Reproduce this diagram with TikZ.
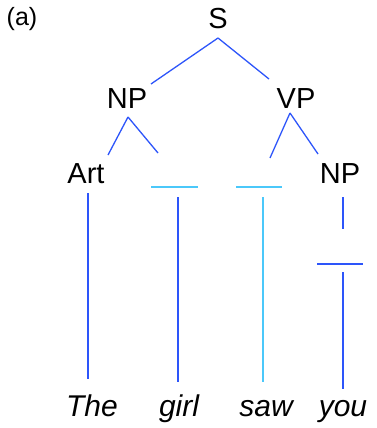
\documentclass[tikz,border=0pt]{standalone}
\usepackage{fontspec}
\setmainfont{Liberation Sans}
\definecolor{treeblue}{RGB}{45,85,250}
\definecolor{treecyan}{RGB}{75,200,250}
\tikzstyle{label}=[font=\fontsize{29}{32}\selectfont,inner sep=0pt,anchor=base]
\tikzstyle{word}=[font=\fontsize{30}{33}\selectfont\itshape,inner sep=0pt,anchor=base]
\tikzstyle{branch} = [draw,treeblue,line width=1.3pt]
\tikzstyle{gapbar} = [draw,treecyan,line width=2.2pt]
\begin{document}
\begin{tikzpicture}[x=1pt, y=-1pt]
			\useasboundingbox (0,0) rectangle (376,428);
			\node [font=\fontsize{25}{28}\selectfont,inner sep=0pt,anchor=base] (tag) at (22,26) {(a)};
			\node [label] (s)    at (218,29) {S};
			\node [label] (np1)  at (127,108) {NP};
			\node [label] (vp)   at (296,108) {VP};
			\node [label] (art)  at (86,183) {Art};
			\node [label] (np2)  at (340,183) {NP};
			\node [word]  (the)  at (92,416) {The};
			\node [word]  (girl) at (179,416) {girl};
			\node [word]  (saw)  at (266,416) {saw};
			\node [word]  (you)  at (343,416) {you};

			\coordinate (s-b)   at (218,38);
			\coordinate (np1-t) at (151,84);
			\coordinate (vp-t)  at (269,79);
			\coordinate (np1-b) at (128,117);
			\coordinate (art-t) at (108,155);
			\coordinate (gap1)  at (158,153);
			\coordinate (vp-b)  at (290,113);
			\coordinate (gap2)  at (270,158);
			\coordinate (np2-t) at (318,154);
			\coordinate (bar1l) at (151,187);
			\coordinate (bar1r) at (198,187);
			\coordinate (bar2l) at (236,187);
			\coordinate (bar2r) at (282,187);
			\coordinate (bar3l) at (317,264);
			\coordinate (bar3r) at (363,264);
			% vertical stems
			\coordinate (art-s)  at (88,193);
			\coordinate (the-n)  at (88,379);
			\coordinate (girl-s) at (178,197);
			\coordinate (girl-n) at (178,382);
			\coordinate (saw-s)  at (263,197);
			\coordinate (saw-n)  at (263,382);
			\coordinate (np2-s)  at (343,197);
			\coordinate (np2-g)  at (343,229);
			\coordinate (you-g)  at (343,272);
			\coordinate (you-n)  at (343,389);

			\draw [branch] (s-b) -- (np1-t);
			\draw [branch] (s-b) -- (vp-t);
			\draw [branch] (np1-b) -- (art-t);
			\draw [branch] (np1-b) -- (gap1);
			\draw [branch] (vp-b) -- (gap2);
			\draw [branch] (vp-b) -- (np2-t);
			\draw [gapbar] (bar1l) -- (bar1r);
			\draw [gapbar] (bar2l) -- (bar2r);
			\draw [branch] (bar3l) -- (bar3r);

			\draw [branch] (art-s) -- (the-n);
			\draw [branch] (girl-s) -- (girl-n);
			\draw [treecyan,line width=1.8pt] (saw-s) -- (saw-n);
			\draw [branch] (np2-s) -- (np2-g);
			\draw [branch] (you-g) -- (you-n);
	\end{tikzpicture}
\end{document}
